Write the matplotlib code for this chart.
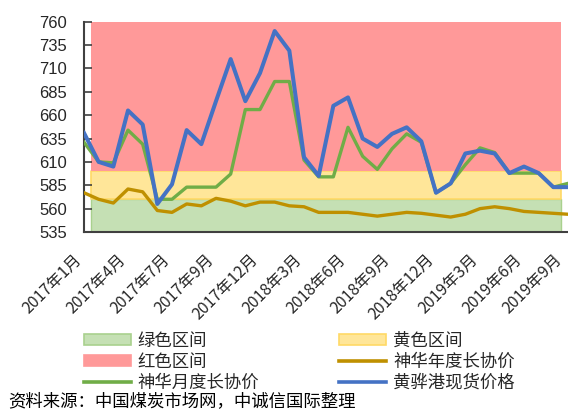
import matplotlib
matplotlib.use("Agg")
import matplotlib.pyplot as plt
from matplotlib.patches import Patch
from matplotlib.lines import Line2D
from matplotlib.transforms import ScaledTranslation

plt.rcParams['font.family'] = ['Noto Sans CJK SC', 'DejaVu Sans']

# ---- data ----
tick_labels = ["2017年1月", "2017年4月", "2017年7月", "2017年9月", "2017年12月",
               "2018年3月", "2018年6月", "2018年9月", "2018年12月", "2019年3月",
               "2019年6月", "2019年9月"]

spot_price = [641, 610, 605, 665, 650, 565, 586, 644, 629, 675, 720, 675, 705, 750,
              729, 615, 595, 670, 679, 635, 626, 640, 647, 632, 577, 587, 619, 622,
              619, 598, 605, 598, 583, 583]
monthly_lt = [631, 610, 609, 644, 629, 570, 570, 583, 583, 583, 597, 666, 666, 696,
              696, 612, 594, 594, 647, 616, 602, 624, 640, 631, 577, 587, 607, 625,
              620, 598, 598, 598, 583, 587]
annual_lt = [577, 570, 566, 581, 578, 558, 556, 565, 563, 571, 568, 563, 567, 567,
             563, 562, 556, 556, 556, 554, 552, 554, 556, 555, 553, 551, 554, 560,
             562, 560, 557, 556, 555, 554]

green_zone = (535, 570)
yellow_zone = (570, 600)
red_zone = (600, 760)

W, H = 568, 412
fig = plt.figure(figsize=(W / 100, H / 100), dpi=100)
ax = fig.add_axes([84 / W, 1 - 232 / H, (W - 84) / W, (232 - 21.7) / H])

n = len(spot_price)
x = list(range(n))
bx0, bx1 = 0.48, 32.5
ax.fill_between([bx0, bx1], green_zone[0], green_zone[1], facecolor='#C5E0B4',
                edgecolor='#A9D18E', linewidth=1.0, zorder=1)
ax.fill_between([bx0, bx1], yellow_zone[0], yellow_zone[1], facecolor='#FFE699',
                edgecolor='#FFD966', linewidth=1.2, zorder=1)
ax.fill_between([bx0, bx1], red_zone[0], red_zone[1], facecolor='#FF9999',
                edgecolor='none', linewidth=0, zorder=1)

ax.plot(x, annual_lt, color='#BF9000', lw=2.4, zorder=3, solid_joinstyle='round')
ax.plot(x, monthly_lt, color='#70AD47', lw=2.4, zorder=4, solid_joinstyle='round')
ax.plot(x, spot_price, color='#4472C4', lw=2.9, zorder=5, solid_joinstyle='round')

ax.set_xlim(0, n - 1)
ax.set_ylim(535, 760)
ax.set_yticks(range(535, 761, 25))
ax.set_yticklabels([str(v) for v in range(535, 761, 25)], family='Liberation Sans',
                   fontsize=12, color='#262626')
ax.tick_params(axis='y', direction='in', length=6, width=1.2, color='#404040', pad=12)
ax.set_xticks(list(range(0, n, 3)))
ax.set_xticklabels(tick_labels, rotation=45, ha='right', va='top',
                   rotation_mode='anchor', fontsize=11.5, color='#262626')
ax.tick_params(axis='x', length=0, pad=14)
xlabs = ax.get_xticklabels()
for i, lab in enumerate(xlabs):
    dx = -15 if i == len(xlabs) - 1 else -11
    lab.set_transform(lab.get_transform() + ScaledTranslation(dx / 100, 0, fig.dpi_scale_trans))

for s in ['top', 'right']:
    ax.spines[s].set_visible(False)
ax.spines['left'].set_color('#404040')
ax.spines['left'].set_linewidth(1.5)
ax.spines['bottom'].set_color('#404040')
ax.spines['bottom'].set_linewidth(1.5)

handles = [
    Patch(facecolor='#C5E0B4', edgecolor='#A9D18E', lw=1.2),
    Patch(facecolor='#FF9999', edgecolor='#FF9999', lw=1.2),
    Line2D([], [], color='#70AD47', lw=2.6),
    Patch(facecolor='#FFE699', edgecolor='#FFD966', lw=1.2),
    Line2D([], [], color='#BF9000', lw=2.6),
    Line2D([], [], color='#4472C4', lw=2.6),
]
labels = ['绿色区间', '红色区间', '神华月度长协价', '黄色区间', '神华年度长协价', '黄骅港现货价格']
fig.legend(handles, labels, loc='upper left', bbox_to_anchor=(84 / W, 1 - 332 / H),
           ncol=2, frameon=False, fontsize=12.5, borderpad=0, borderaxespad=0,
           handlelength=2.7, handleheight=0.6, handletextpad=0.4,
           columnspacing=4.6, labelspacing=0.17, labelcolor='#262626')

fig.text(8 / W, 1 - 401 / H, '资料来源：中国煤炭市场网，中诚信国际整理',
         fontsize=12.5, va='center', ha='left', color='#000000')

fig.savefig('out.png', dpi=100)
